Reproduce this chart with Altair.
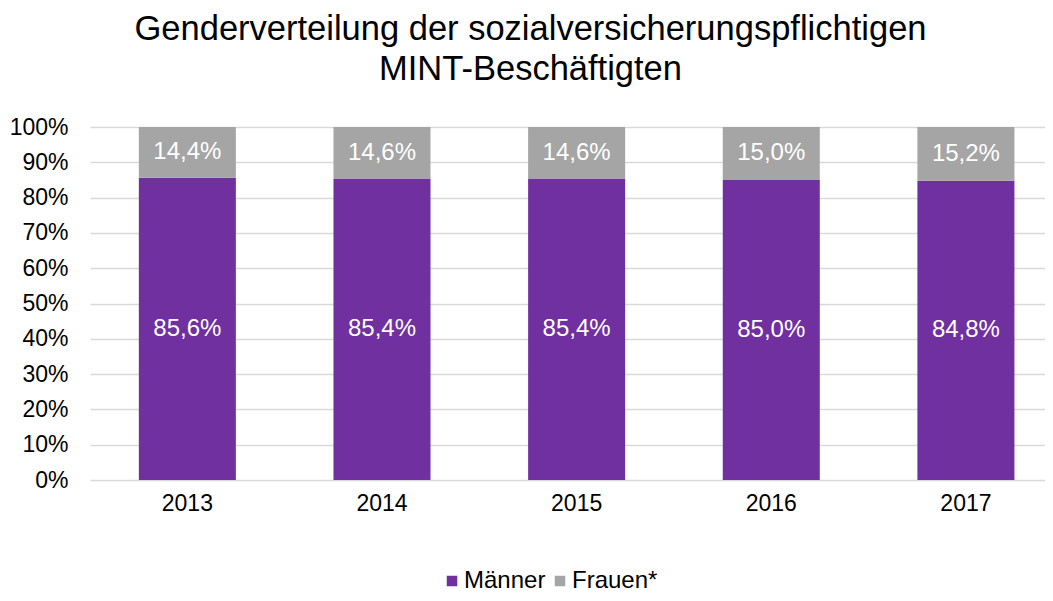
import altair as alt
import pandas as pd

years = ["2013", "2014", "2015", "2016", "2017"]
maenner = [85.6, 85.4, 85.4, 85.0, 84.8]
frauen = [14.4, 14.6, 14.6, 15.0, 15.2]
series = ["Männer", "Frauen*"]
colors = ["#7030A0", "#A5A5A5"]
y_ticks = [0, 10, 20, 30, 40, 50, 60, 70, 80, 90, 100]

rows = []
for i, y in enumerate(years):
    for k, (name, vals) in enumerate(zip(series, [maenner, frauen])):
        v = vals[i]
        rows.append({"Jahr": y, "Gruppe": name, "ord": k, "Wert": v,
                     "Label": f"{v:.1f}%".replace(".", ",")})
df = pd.DataFrame(rows)

FONT = "Liberation Sans"

base = alt.Chart(df).transform_stack(
    stack="Wert", groupby=["Jahr"], as_=["y0", "y1"],
    sort=[alt.SortField("ord", order="ascending")]
).transform_calculate(mid="(datum.y0 + datum.y1) / 2")

xscale = alt.Scale(paddingInner=0.5015, paddingOuter=0.204, align=0.615)
yscale = alt.Scale(domain=[0, 100], nice=False)

x_axis = alt.Axis(labelAngle=0, labelFontSize=23, labelColor="#000000",
                  labelFont=FONT, ticks=False, domain=False, labelPadding=12)
y_axis = alt.Axis(values=y_ticks, labelExpr="datum.value + '%'",
                  labelFontSize=23, labelColor="#000000", labelFont=FONT,
                  labelOverlap=False, tickCount=11,
                  ticks=False, domain=False, labelPadding=22,
                  gridColor="#D9D9D9", gridWidth=1.5)

bars = base.mark_bar().encode(
    x=alt.X("Jahr:N", sort=years, title=None, scale=xscale, axis=x_axis),
    y=alt.Y("y0:Q", title=None, scale=yscale, axis=y_axis),
    y2="y1:Q",
    color=alt.Color("Gruppe:N", sort=series,
                    scale=alt.Scale(domain=series, range=colors),
                    legend=alt.Legend(title=None, orient="none", direction="horizontal",
                                      legendX=350, legendY=442,
                                      labelFontSize=24, labelFont=FONT, labelColor="#000000",
                                      symbolType="square", symbolSize=110,
                                      symbolStrokeWidth=0, labelOffset=0,
                                      columnPadding=2)),
)

labels = base.mark_text(color="white", fontSize=24, font=FONT, baseline="middle").encode(
    x=alt.X("Jahr:N", sort=years, title=None, scale=xscale, axis=x_axis),
    y=alt.Y("mid:Q", title=None, scale=yscale, axis=y_axis),
    text="Label:N",
)

chart = alt.layer(bars, labels).properties(
    width=955, height=353,
    padding={"left": 82, "top": 119, "right": 0, "bottom": 113},
    autosize=alt.AutoSizeParams(type="none"),
    title=alt.TitleParams(
        text=["Genderverteilung der sozialversicherungspflichtigen", "MINT-Beschäftigten"],
        fontSize=34.5, lineHeight=40, font=FONT, fontWeight="normal", color="#000000",
        anchor="middle", offset=29, dx=-37),
).configure_view(stroke=None)

chart.save("out.html", embed_options={"renderer": "svg", "actions": False})
